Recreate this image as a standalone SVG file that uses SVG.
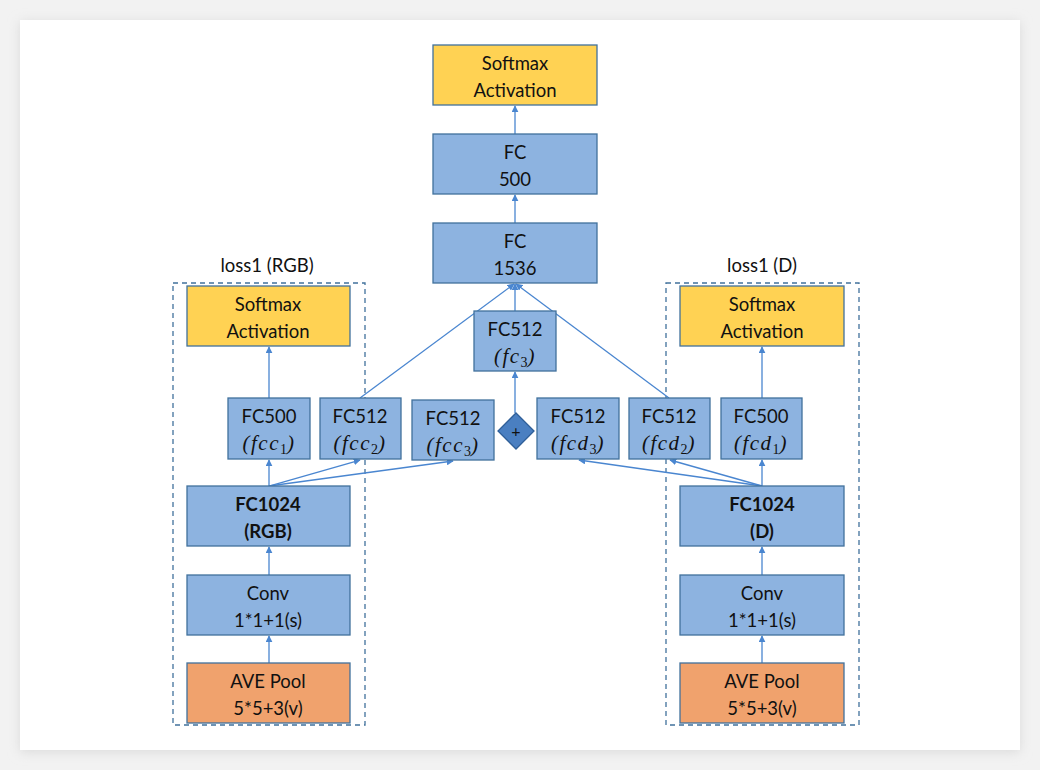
<svg xmlns="http://www.w3.org/2000/svg" width="1040" height="770" viewBox="0 0 1040 770">
<defs>
<filter id="sh" x="-5%" y="-5%" width="110%" height="110%">
<feGaussianBlur stdDeviation="6"/>
</filter>
<marker id="ah" viewBox="0 0 10 10" refX="9" refY="5" markerWidth="7" markerHeight="7" markerUnits="userSpaceOnUse" orient="auto">
<path d="M0,0 L10,5 L0,10 z" fill="#4A86D0"/>
</marker>
<style>
.b{fill:#8DB3E0;stroke:#41719C;stroke-width:1.3}
.y{fill:#FFD253;stroke:#41719C;stroke-width:1.3}
.o{fill:#F0A26D;stroke:#41719C;stroke-width:1.3}
.t{font-family:Lato,"Open Sans","Liberation Sans",sans-serif;font-size:18.5px;fill:#111;text-anchor:middle}
.bd{font-weight:bold}
.m{font-family:"Liberation Serif","DejaVu Serif",serif;font-style:italic;font-size:21px;letter-spacing:1.5px}
.s{font-family:"Liberation Serif",serif;font-style:normal;font-size:14px;letter-spacing:0}
.c line,.c path{stroke:#4A86D0;stroke-width:1.3;fill:none}
.d{fill:none;stroke:#41719C;stroke-width:1.3;stroke-dasharray:5,4}
</style>
</defs>
<rect width="1040" height="770" fill="#F2F2F2"/>
<rect x="20" y="22" width="1000" height="730" fill="#DADADA" filter="url(#sh)"/>
<rect x="20" y="20" width="1000" height="730" fill="#FFFFFF"/>

<g id="group-rgb">
<rect class="d" x="173" y="283" width="192" height="442"/>
<text class="t" x="267" y="272">loss1 (RGB)</text>
</g>
<g id="group-d">
<rect class="d" x="666" y="283" width="193" height="442"/>
<text class="t" x="762" y="272">loss1 (D)</text>
</g>

<g class="c" id="connectors">
<line x1="515" y1="134" x2="515" y2="106" marker-end="url(#ah)"/>
<line x1="515" y1="223" x2="515" y2="195" marker-end="url(#ah)"/>
<line x1="515" y1="311" x2="515" y2="284" marker-end="url(#ah)"/>
<line x1="360" y1="398" x2="514" y2="284" marker-end="url(#ah)"/>
<line x1="669" y1="398" x2="516" y2="284" marker-end="url(#ah)"/>
<line x1="515" y1="413" x2="515" y2="372" marker-end="url(#ah)"/>
<line x1="269" y1="398" x2="269" y2="347" marker-end="url(#ah)"/>
<line x1="269" y1="486" x2="269" y2="460" marker-end="url(#ah)"/>
<line x1="269" y1="486" x2="360" y2="460" marker-end="url(#ah)"/>
<line x1="269" y1="486" x2="453" y2="461" marker-end="url(#ah)"/>
<line x1="269" y1="575" x2="269" y2="547" marker-end="url(#ah)"/>
<line x1="269" y1="663" x2="269" y2="636" marker-end="url(#ah)"/>
<line x1="762" y1="398" x2="762" y2="347" marker-end="url(#ah)"/>
<line x1="762" y1="486" x2="762" y2="460" marker-end="url(#ah)"/>
<line x1="762" y1="486" x2="670" y2="460" marker-end="url(#ah)"/>
<line x1="762" y1="486" x2="579" y2="460" marker-end="url(#ah)"/>
<line x1="762" y1="575" x2="762" y2="547" marker-end="url(#ah)"/>
<line x1="762" y1="663" x2="762" y2="636" marker-end="url(#ah)"/>
</g>

<g id="softmax-top"><rect class="y" x="433" y="45" width="164" height="60"/>
<text class="t" x="515" y="70">Softmax</text><text class="t" x="515" y="97">Activation</text></g>
<g id="fc500"><rect class="b" x="433" y="134" width="164" height="60"/>
<text class="t" x="515" y="159">FC</text><text class="t" x="515" y="186">500</text></g>
<g id="fc1536"><rect class="b" x="433" y="223" width="164" height="60"/>
<text class="t" x="515" y="248">FC</text><text class="t" x="515" y="275">1536</text></g>

<g id="fc3"><rect class="b" x="474" y="311" width="82" height="60"/>
<text class="t" x="515" y="336">FC512</text>
<text class="t m" x="515" y="363">(fc<tspan class="s" dy="4">3</tspan><tspan dy="-4">)</tspan></text></g>

<g id="softmax-rgb"><rect class="y" x="187" y="286" width="163" height="60"/>
<text class="t" x="268" y="311">Softmax</text><text class="t" x="268" y="338">Activation</text></g>
<g id="fcc1"><rect class="b" x="228" y="398" width="82" height="61"/>
<text class="t" x="269" y="423">FC500</text>
<text class="t m" x="269" y="450">(fcc<tspan class="s" dy="4">1</tspan><tspan dy="-4">)</tspan></text></g>
<g id="fcc2"><rect class="b" x="320" y="398" width="81" height="61"/>
<text class="t" x="360" y="423">FC512</text>
<text class="t m" x="360" y="450">(fcc<tspan class="s" dy="4">2</tspan><tspan dy="-4">)</tspan></text></g>
<g id="fcc3"><rect class="b" x="412" y="400" width="82" height="60"/>
<text class="t" x="453" y="425">FC512</text>
<text class="t m" x="453" y="452">(fcc<tspan class="s" dy="4">3</tspan><tspan dy="-4">)</tspan></text></g>

<g id="plus"><path d="M516,413 L534,431 L516,449 L498,431 z" fill="#4A7FC1" stroke="#2F5F98" stroke-width="1.3"/>
<text x="516" y="437" text-anchor="middle" font-family="Lato,'Liberation Sans',sans-serif" font-size="16" fill="#111">+</text></g>

<g id="fcd3"><rect class="b" x="537" y="398" width="82" height="61"/>
<text class="t" x="578" y="423">FC512</text>
<text class="t m" x="578" y="450">(fcd<tspan class="s" dy="4">3</tspan><tspan dy="-4">)</tspan></text></g>
<g id="fcd2"><rect class="b" x="629" y="398" width="81" height="61"/>
<text class="t" x="669" y="423">FC512</text>
<text class="t m" x="669" y="450">(fcd<tspan class="s" dy="4">2</tspan><tspan dy="-4">)</tspan></text></g>
<g id="fcd1"><rect class="b" x="721" y="398" width="81" height="61"/>
<text class="t" x="761" y="423">FC500</text>
<text class="t m" x="761" y="450">(fcd<tspan class="s" dy="4">1</tspan><tspan dy="-4">)</tspan></text></g>
<g id="softmax-d"><rect class="y" x="680" y="286" width="164" height="60"/>
<text class="t" x="762" y="311">Softmax</text><text class="t" x="762" y="338">Activation</text></g>

<g id="fc1024-rgb"><rect class="b" x="187" y="486" width="163" height="60"/>
<text class="t bd" x="268" y="511">FC1024</text><text class="t bd" x="268" y="538">(RGB)</text></g>
<g id="conv-rgb"><rect class="b" x="187" y="575" width="163" height="60"/>
<text class="t" x="268" y="600">Conv</text><text class="t" x="268" y="627">1*1+1(s)</text></g>
<g id="pool-rgb"><rect class="o" x="187" y="663" width="163" height="60"/>
<text class="t" x="268" y="688">AVE Pool</text><text class="t" x="268" y="715">5*5+3(v)</text></g>

<g id="fc1024-d"><rect class="b" x="680" y="486" width="164" height="60"/>
<text class="t bd" x="762" y="511">FC1024</text><text class="t bd" x="762" y="538">(D)</text></g>
<g id="conv-d"><rect class="b" x="680" y="575" width="164" height="60"/>
<text class="t" x="762" y="600">Conv</text><text class="t" x="762" y="627">1*1+1(s)</text></g>
<g id="pool-d"><rect class="o" x="680" y="663" width="164" height="60"/>
<text class="t" x="762" y="688">AVE Pool</text><text class="t" x="762" y="715">5*5+3(v)</text></g>
</svg>
